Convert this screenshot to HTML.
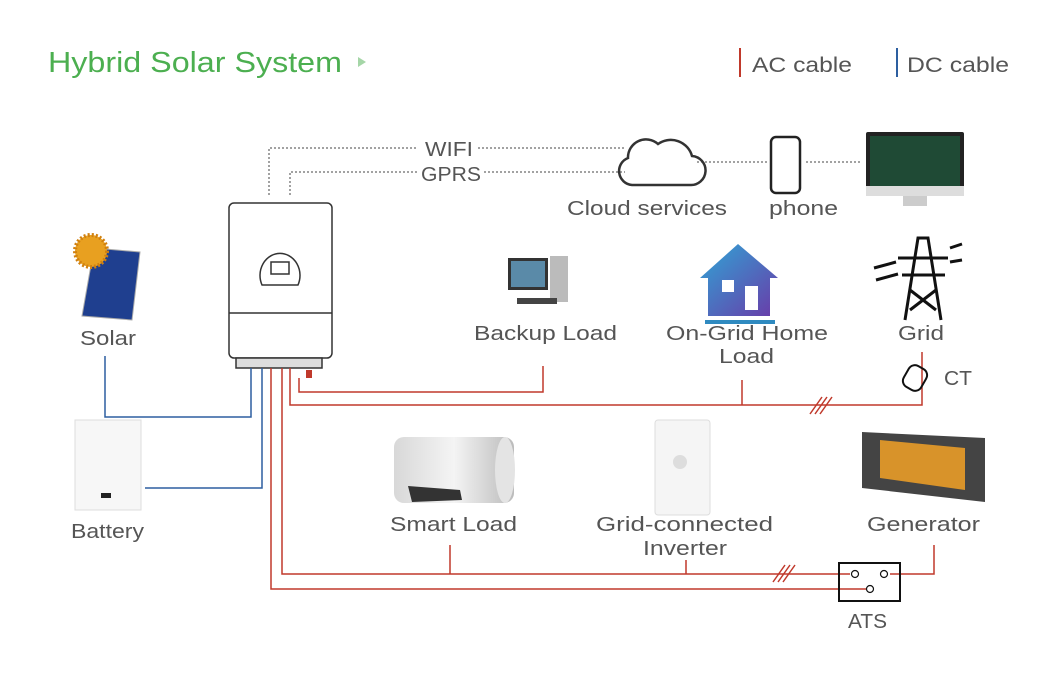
<!DOCTYPE html>
<html><head><meta charset="utf-8"><style>
html,body{margin:0;padding:0;background:#fff;width:1060px;height:679px;overflow:hidden}
svg{display:block}
text{font-family:"Liberation Sans",sans-serif;fill:#555;font-size:20px}
</style></head><body>
<svg width="1060" height="679" viewBox="0 0 1060 679">
<defs>
<linearGradient id="hg" x1="0" y1="0" x2="1" y2="1"><stop offset="0" stop-color="#2fa6d6"/><stop offset="1" stop-color="#6a3aa8"/></linearGradient>
<linearGradient id="sg" x1="0" y1="0" x2="1" y2="0"><stop offset="0" stop-color="#d8d8d8"/><stop offset="0.5" stop-color="#f4f4f4"/><stop offset="1" stop-color="#bbb"/></linearGradient>
</defs>
<text x="48" y="72" textLength="294" lengthAdjust="spacingAndGlyphs" style="font-size:29px;fill:#4caf50">Hybrid Solar System</text>
<polygon points="358,57 366,62 358,67" fill="#a5d6a7"/>
<line x1="740" y1="48" x2="740" y2="77" stroke="#c0392b" stroke-width="2"/>
<text x="752" y="72" textLength="100" lengthAdjust="spacingAndGlyphs" style="font-size:21px">AC cable</text>
<line x1="897" y1="48" x2="897" y2="77" stroke="#2d5fa0" stroke-width="2"/>
<text x="907" y="72" textLength="102" lengthAdjust="spacingAndGlyphs" style="font-size:21px">DC cable</text>

<g stroke="#444" stroke-width="1" stroke-dasharray="2,2" fill="none">
<polyline points="269,195 269,148 418,148"/><line x1="478" y1="148" x2="625" y2="148"/>
<polyline points="290,195 290,172 418,172"/><line x1="484" y1="172" x2="625" y2="172"/>
<line x1="697" y1="162" x2="768" y2="162"/>
<line x1="806" y1="162" x2="862" y2="162"/>
</g>
<text x="425" y="156" textLength="48" lengthAdjust="spacingAndGlyphs">WIFI</text>
<text x="421" y="181" textLength="60" lengthAdjust="spacingAndGlyphs">GPRS</text>
<path d="M632,185 a14,14 0 0 1 -4,-27 a18,18 0 0 1 30,-14 a22,22 0 0 1 34,12 a14,14 0 0 1 -2,29 z" fill="none" stroke="#333" stroke-width="2.5"/>
<text x="567" y="215" textLength="160" lengthAdjust="spacingAndGlyphs">Cloud services</text>
<rect x="771" y="137" width="29" height="56" rx="5" fill="none" stroke="#222" stroke-width="2.5"/>
<text x="769" y="215" textLength="69" lengthAdjust="spacingAndGlyphs">phone</text>
<rect x="866" y="132" width="98" height="62" rx="2" fill="#222"/>
<rect x="870" y="136" width="90" height="50" fill="#1f4a35"/>
<rect x="866" y="186" width="98" height="10" fill="#ddd"/>
<rect x="903" y="196" width="24" height="10" fill="#ccc"/>

<g stroke="#333" stroke-width="1.5" fill="#fff">
<rect x="229" y="203" width="103" height="155" rx="5"/>
<line x1="229" y1="313" x2="332" y2="313"/>
<path d="M262,285 a20,22 0 1 1 36,0 z"/>
<rect x="271" y="262" width="18" height="12"/>
<rect x="236" y="358" width="86" height="10" fill="#ddd"/>
</g>
<rect x="306" y="370" width="6" height="8" fill="#c0392b"/>

<polygon points="94,248 140,252 132,320 82,316" fill="#1f3f8f" stroke="#aaa"/>
<circle cx="91" cy="251" r="16" fill="#e8a020" stroke="#d08010" stroke-width="4" stroke-dasharray="2,2"/>
<text x="80" y="345" textLength="56" lengthAdjust="spacingAndGlyphs">Solar</text>
<rect x="75" y="420" width="66" height="90" fill="#f7f7f7" stroke="#ddd"/>
<rect x="101" y="493" width="10" height="5" fill="#222"/>
<text x="71" y="538" textLength="73" lengthAdjust="spacingAndGlyphs">Battery</text>

<g stroke="#2d5fa0" stroke-width="1.5" fill="none">
<polyline points="105,356 105,417 251,417 251,368"/>
<polyline points="145,488 262,488 262,368"/>
</g>
<g stroke="#c0392b" stroke-width="1.5" fill="none">
<polyline points="299,378 299,392 543,392 543,366"/>
<polyline points="290,368 290,405 922,405 922,352"/>
<line x1="742" y1="380" x2="742" y2="405"/>
<polyline points="282,368 282,574 850,574"/>
<polyline points="271,368 271,589 870,589"/>
<line x1="450" y1="545" x2="450" y2="574"/>
<line x1="686" y1="560" x2="686" y2="574"/>
<polyline points="890,574 934,574 934,545"/>
<line x1="810" y1="414" x2="822" y2="397"/><line x1="815" y1="414" x2="827" y2="397"/><line x1="820" y1="414" x2="832" y2="397"/>
<line x1="773" y1="582" x2="785" y2="565"/><line x1="778" y1="582" x2="790" y2="565"/><line x1="783" y1="582" x2="795" y2="565"/>
</g>
<rect x="839" y="563" width="61" height="38" fill="none" stroke="#111" stroke-width="2"/>
<g fill="#fff" stroke="#111" stroke-width="1.2"><circle cx="855" cy="574" r="3.5"/><circle cx="884" cy="574" r="3.5"/><circle cx="870" cy="589" r="3.5"/></g>
<text x="848" y="628" textLength="39" lengthAdjust="spacingAndGlyphs">ATS</text>

<rect x="508" y="258" width="40" height="32" fill="#333"/><rect x="511" y="261" width="34" height="26" fill="#5a8aa8"/>
<rect x="550" y="256" width="18" height="46" fill="#bbb"/>
<rect x="517" y="298" width="40" height="6" fill="#444"/>
<text x="474" y="340" textLength="143" lengthAdjust="spacingAndGlyphs">Backup Load</text>
<polygon points="738,244 700,278 708,278 708,316 770,316 770,278 778,278" fill="url(#hg)"/>
<rect x="722" y="280" width="12" height="12" fill="#fff"/>
<rect x="745" y="286" width="13" height="24" fill="#fff"/>
<rect x="705" y="320" width="70" height="4" fill="#2f8ac0"/>
<text x="666" y="340" textLength="162" lengthAdjust="spacingAndGlyphs">On-Grid Home</text>
<text x="719" y="363" textLength="55" lengthAdjust="spacingAndGlyphs">Load</text>
<g stroke="#111" stroke-width="3" fill="none">
<polyline points="905,320 918,238 928,238 941,320"/>
<line x1="898" y1="258" x2="948" y2="258"/><line x1="902" y1="275" x2="945" y2="275"/>
<line x1="910" y1="290" x2="936" y2="310"/><line x1="936" y1="290" x2="910" y2="310"/>
<line x1="874" y1="268" x2="896" y2="262"/><line x1="876" y1="280" x2="898" y2="274"/><line x1="950" y1="248" x2="962" y2="244"/><line x1="950" y1="262" x2="962" y2="260"/>
</g>
<text x="898" y="340" textLength="46" lengthAdjust="spacingAndGlyphs">Grid</text>
<rect x="905" y="366" width="20" height="24" rx="7" transform="rotate(30 915 378)" fill="none" stroke="#111" stroke-width="2"/>
<text x="944" y="385" textLength="28" lengthAdjust="spacingAndGlyphs">CT</text>

<rect x="394" y="437" width="120" height="66" rx="10" fill="url(#sg)"/>
<ellipse cx="505" cy="470" rx="10" ry="33" fill="#e4e4e4"/>
<polygon points="408,486 460,490 462,500 412,502" fill="#333"/>
<text x="390" y="531" textLength="127" lengthAdjust="spacingAndGlyphs">Smart Load</text>
<rect x="655" y="420" width="55" height="95" rx="3" fill="#f5f5f5" stroke="#ddd"/>
<circle cx="680" cy="462" r="7" fill="#ddd"/>
<text x="596" y="531" textLength="177" lengthAdjust="spacingAndGlyphs">Grid-connected</text>
<text x="643" y="555" textLength="84" lengthAdjust="spacingAndGlyphs">Inverter</text>
<polygon points="862,432 985,438 985,502 862,488" fill="#444"/>
<polygon points="880,440 965,448 965,490 880,478" fill="#d8932a"/>
<text x="867" y="531" textLength="113" lengthAdjust="spacingAndGlyphs">Generator</text>
</svg>
</body></html>
